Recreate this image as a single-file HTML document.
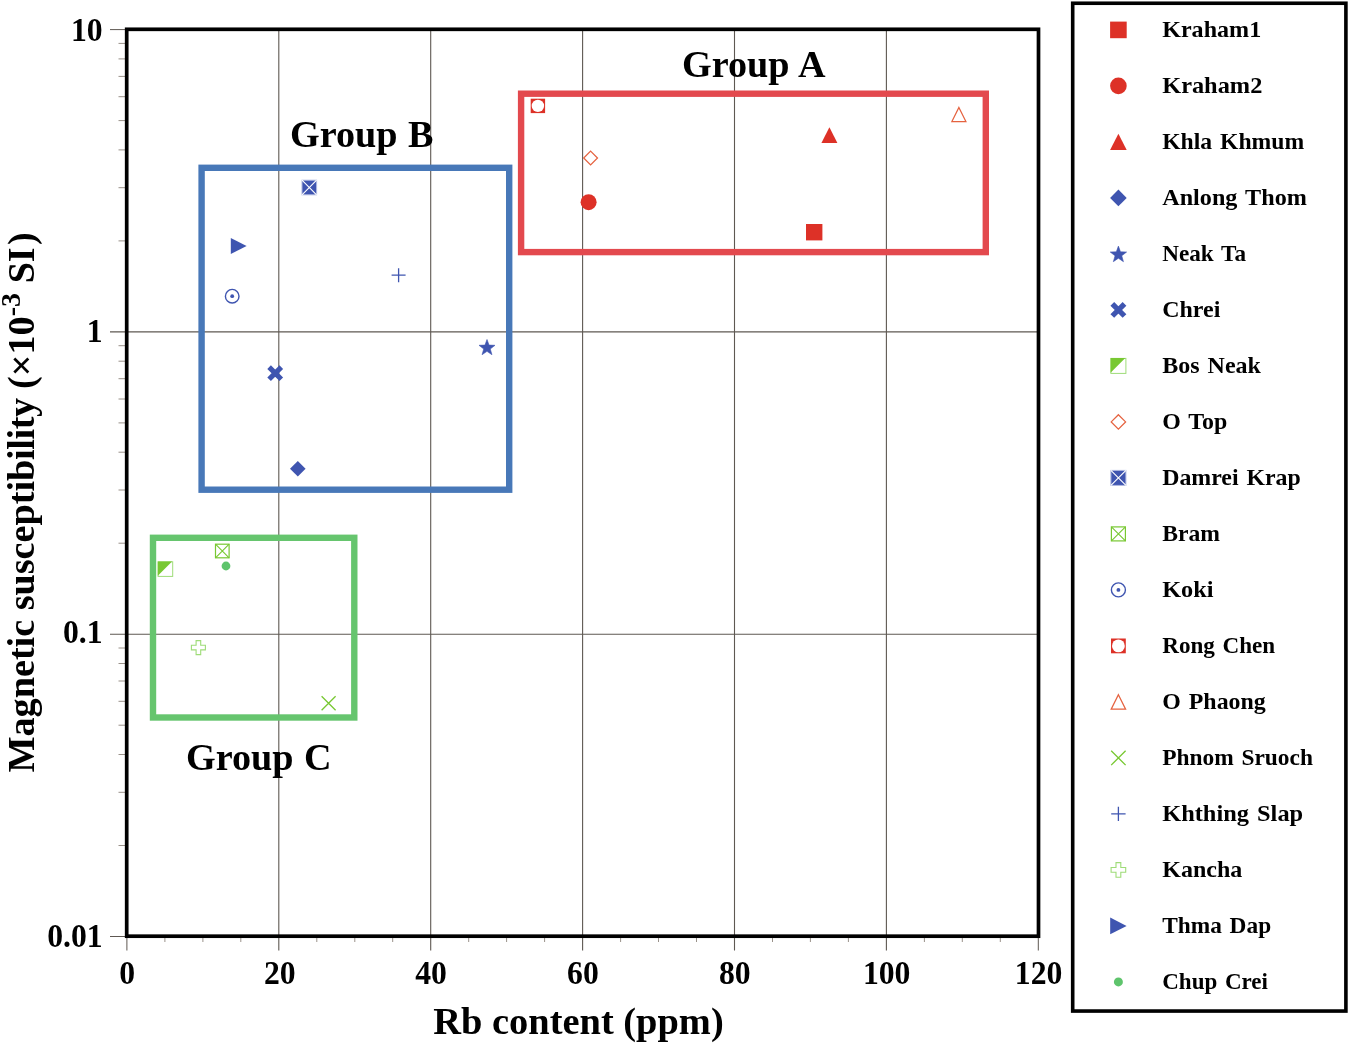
<!DOCTYPE html>
<html><head><meta charset="utf-8"><title>Chart</title>
<style>html,body{margin:0;padding:0;background:#fff;}body{width:1350px;height:1045px;overflow:hidden;}svg{display:block;will-change:transform;}text{font-family:"Liberation Serif",serif;font-weight:bold;fill:#000;}</style>
</head><body>
<svg width="1350" height="1045" viewBox="0 0 1350 1045">
<rect x="0" y="0" width="1350" height="1045" fill="#fff"/>
<g stroke="#5E5852" stroke-width="1.1" fill="none">
<line x1="278.8" y1="29.6" x2="278.8" y2="950.5"/>
<line x1="430.7" y1="29.6" x2="430.7" y2="950.5"/>
<line x1="582.6" y1="29.6" x2="582.6" y2="950.5"/>
<line x1="734.5" y1="29.6" x2="734.5" y2="950.5"/>
<line x1="886.4" y1="29.6" x2="886.4" y2="950.5"/>
<line x1="110" y1="331.9" x2="1038.3" y2="331.9"/>
<line x1="110" y1="634.2" x2="1038.3" y2="634.2"/>
</g>
<g stroke="#9A928A" stroke-width="1" fill="none">
<line x1="118.5" y1="240.9" x2="126" y2="240.9"/>
<line x1="118.5" y1="187.7" x2="126" y2="187.7"/>
<line x1="118.5" y1="149.9" x2="126" y2="149.9"/>
<line x1="118.5" y1="120.6" x2="126" y2="120.6"/>
<line x1="118.5" y1="96.7" x2="126" y2="96.7"/>
<line x1="118.5" y1="76.4" x2="126" y2="76.4"/>
<line x1="118.5" y1="58.9" x2="126" y2="58.9"/>
<line x1="118.5" y1="43.4" x2="126" y2="43.4"/>
<line x1="118.5" y1="543.2" x2="126" y2="543.2"/>
<line x1="118.5" y1="490.0" x2="126" y2="490.0"/>
<line x1="118.5" y1="452.2" x2="126" y2="452.2"/>
<line x1="118.5" y1="422.9" x2="126" y2="422.9"/>
<line x1="118.5" y1="399.0" x2="126" y2="399.0"/>
<line x1="118.5" y1="378.7" x2="126" y2="378.7"/>
<line x1="118.5" y1="361.2" x2="126" y2="361.2"/>
<line x1="118.5" y1="345.7" x2="126" y2="345.7"/>
<line x1="118.5" y1="845.5" x2="126" y2="845.5"/>
<line x1="118.5" y1="792.3" x2="126" y2="792.3"/>
<line x1="118.5" y1="754.5" x2="126" y2="754.5"/>
<line x1="118.5" y1="725.2" x2="126" y2="725.2"/>
<line x1="118.5" y1="701.3" x2="126" y2="701.3"/>
<line x1="118.5" y1="681.0" x2="126" y2="681.0"/>
<line x1="118.5" y1="663.5" x2="126" y2="663.5"/>
<line x1="118.5" y1="648.0" x2="126" y2="648.0"/>
<line x1="164.9" y1="937" x2="164.9" y2="942"/>
<line x1="202.9" y1="937" x2="202.9" y2="942"/>
<line x1="240.8" y1="937" x2="240.8" y2="942"/>
<line x1="316.8" y1="937" x2="316.8" y2="942"/>
<line x1="354.8" y1="937" x2="354.8" y2="942"/>
<line x1="392.7" y1="937" x2="392.7" y2="942"/>
<line x1="468.7" y1="937" x2="468.7" y2="942"/>
<line x1="506.6" y1="937" x2="506.6" y2="942"/>
<line x1="544.6" y1="937" x2="544.6" y2="942"/>
<line x1="620.6" y1="937" x2="620.6" y2="942"/>
<line x1="658.5" y1="937" x2="658.5" y2="942"/>
<line x1="696.5" y1="937" x2="696.5" y2="942"/>
<line x1="772.5" y1="937" x2="772.5" y2="942"/>
<line x1="810.4" y1="937" x2="810.4" y2="942"/>
<line x1="848.4" y1="937" x2="848.4" y2="942"/>
<line x1="924.4" y1="937" x2="924.4" y2="942"/>
<line x1="962.3" y1="937" x2="962.3" y2="942"/>
<line x1="1000.3" y1="937" x2="1000.3" y2="942"/>
</g>
<g stroke="#5E5852" stroke-width="1" fill="none">
<line x1="110" y1="29.6" x2="126" y2="29.6"/>
<line x1="110" y1="936.5" x2="126" y2="936.5"/>
<line x1="126.9" y1="936" x2="126.9" y2="950.5"/>
<line x1="1038.3" y1="936" x2="1038.3" y2="950.5"/>
</g>
<rect x="521.1" y="93.7" width="464.7" height="158.4" fill="none" stroke="#E3494E" stroke-width="6.4"/>
<rect x="201.6" y="167.8" width="307.6" height="321.9" fill="none" stroke="#4878B8" stroke-width="6.4"/>
<rect x="153" y="537.8" width="201.3" height="179.7" fill="none" stroke="#66C56E" stroke-width="6.4"/>
<rect x="126.7" y="29.3" width="911.8" height="906.9" fill="none" stroke="#000" stroke-width="3.7"/>
<text transform="translate(682,77.4) scale(1.005,1)" font-size="38" word-spacing="1">Group A</text>
<text transform="translate(290,146.5) scale(1.005,1)" font-size="38" word-spacing="1">Group B</text>
<text transform="translate(186,769.9) scale(1.005,1)" font-size="38" word-spacing="1">Group C</text>
<rect x="806.0" y="224.0" width="16.4" height="16.4" fill="#DD3127"/>
<circle cx="588.6" cy="202.2" r="8.0" fill="#DD3127"/>
<path d="M829.4 127.2L837.4 143.0L821.4 143.0Z" fill="#DD3127"/>
<path d="M297.8 461.0L305.6 468.8L297.8 476.6L290.0 468.8Z" fill="#3F55B0"/>
<polygon points="487.00,339.50 489.02,345.11 494.99,345.30 490.28,348.96 491.94,354.70 487.00,351.34 482.06,354.70 483.72,348.96 479.01,345.30 484.98,345.11" fill="#3F55B0" stroke="#3F55B0" stroke-width="0.6" stroke-linejoin="round"/>
<path d="M269.1 367.1L281.3 379.3M281.3 367.1L269.1 379.3" stroke="#3F55B0" stroke-width="5.1" fill="none"/>
<rect x="158.1" y="561.8" width="14.6" height="14.6" fill="#fff" stroke="#9EDC78" stroke-width="1"/><path d="M157.8 561.5L172.1 561.5L157.8 575.8Z" fill="#78C832"/>
<path d="M590.6 151.1L597.5 158.0L590.6 164.9L583.7 158.0Z" fill="#fff" stroke="#E5623F" stroke-width="1.25"/>
<rect x="302.0" y="180.2" width="14.6" height="14.6" fill="#3F55B0" stroke="#AEB8E0" stroke-width="1"/><path d="M302.0 180.2L316.6 194.8M316.6 180.2L302.0 194.8" stroke="#fff" stroke-width="1.1" fill="none"/>
<rect x="215.5" y="544.2" width="13.6" height="13.6" fill="#fff" stroke="#78C832" stroke-width="1.2"/><path d="M215.5 544.2L229.1 557.8M229.1 544.2L215.5 557.8" stroke="#78C832" stroke-width="1.1" fill="none"/>
<circle cx="232.2" cy="296.2" r="6.8" fill="#fff" stroke="#3F55B0" stroke-width="1.4"/><circle cx="232.2" cy="296.2" r="1.9" fill="#3F55B0"/>
<rect x="530.7" y="98.7" width="14.4" height="14.4" fill="#DD3127"/><circle cx="537.9" cy="105.9" r="6.2" fill="#fff"/>
<path d="M958.9 107.5L965.9 121.5L951.9 121.5Z" fill="#fff" stroke="#E5623F" stroke-width="1.25"/>
<path d="M321.6 696.2L335.6 710.2M335.6 696.2L321.6 710.2" stroke="#78C832" stroke-width="1.3" fill="none"/>
<path d="M391.6 275.2L405.6 275.2M398.6 268.2L398.6 282.2" stroke="#3F55B0" stroke-width="1.3" fill="none"/>
<path d="M196.1 640.6L200.7 640.6L200.7 645.3L205.4 645.3L205.4 649.9L200.7 649.9L200.7 654.6L196.1 654.6L196.1 649.9L191.4 649.9L191.4 645.3L196.1 645.3Z" fill="#fff" stroke="#9EDC78" stroke-width="1.1"/>
<path d="M230.8 238.0L246.6 246.0L230.8 254.0Z" fill="#3F55B0"/>
<circle cx="226" cy="566" r="4.4" fill="#5EC46C"/>
<g font-size="33" text-anchor="end">
<text transform="translate(102.6,40.5) scale(0.96,1)">10</text>
<text transform="translate(102.6,341.8) scale(0.96,1)">1</text>
<text transform="translate(102.6,643.0) scale(0.96,1)">0.1</text>
<text transform="translate(102.6,946.8) scale(0.96,1)">0.01</text>
</g>
<g font-size="33" text-anchor="middle">
<text transform="translate(127.2,984) scale(0.96,1)">0</text>
<text transform="translate(279.7,984) scale(0.96,1)">20</text>
<text transform="translate(431.0,984) scale(0.96,1)">40</text>
<text transform="translate(582.9,984) scale(0.96,1)">60</text>
<text transform="translate(734.8,984) scale(0.96,1)">80</text>
<text transform="translate(886.7,984) scale(0.96,1)">100</text>
<text transform="translate(1038.6,984) scale(0.96,1)">120</text>
</g>
<text transform="translate(433.2,1034.3) scale(1.012,1)" font-size="38">Rb content (ppm)</text>
<text transform="translate(33.6,772.5) rotate(-90) scale(1.005,1)" font-size="38">Magnetic suscepti<tspan letter-spacing="-0.35">bility </tspan>(×10<tspan font-size="28" dy="-13.4">-3</tspan><tspan dy="13.4"> SI</tspan><tspan dx="2.4">)</tspan></text>
<rect x="1072.7" y="3.25" width="273.2" height="1007.8" fill="#fff" stroke="#000" stroke-width="3.6"/>
<g font-size="24" word-spacing="2">
<rect x="1110.1" y="21.6" width="16.6" height="16.6" fill="#DD3127"/>
<text transform="translate(1162.2,37.3) scale(1.004,1)">Kraham1</text>
<circle cx="1118.4" cy="85.9" r="8.3" fill="#DD3127"/>
<text transform="translate(1162.2,93.3) scale(1.015,1)">Kraham2</text>
<path d="M1118.4 133.7L1126.7 150.1L1110.1 150.1Z" fill="#DD3127"/>
<text transform="translate(1162.2,149.3) scale(0.986,1)">Khla Khmum</text>
<path d="M1118.4 189.6L1126.7 197.9L1118.4 206.2L1110.1 197.9Z" fill="#3F55B0"/>
<text transform="translate(1162.2,205.3) scale(1.008,1)">Anlong Thom</text>
<polygon points="1118.40,246.10 1120.47,251.85 1126.58,252.04 1121.75,255.79 1123.45,261.66 1118.40,258.23 1113.35,261.66 1115.05,255.79 1110.22,252.04 1116.33,251.85" fill="#3F55B0" stroke="#3F55B0" stroke-width="0.6" stroke-linejoin="round"/>
<text transform="translate(1162.2,261.3) scale(0.967,1)">Neak Ta</text>
<path d="M1112.3 303.8L1124.5 316.0M1124.5 303.8L1112.3 316.0" stroke="#3F55B0" stroke-width="5.3" fill="none"/>
<text transform="translate(1162.2,317.3) scale(0.998,1)">Chrei</text>
<rect x="1110.9" y="358.4" width="15" height="15" fill="#fff" stroke="#9EDC78" stroke-width="1"/><path d="M1110.6 358.1L1125.3 358.1L1110.6 372.8Z" fill="#78C832"/>
<text transform="translate(1162.2,373.3) scale(1.0,1)">Bos Neak</text>
<path d="M1118.4 414.7L1125.6 421.9L1118.4 429.1L1111.2 421.9Z" fill="#fff" stroke="#E5623F" stroke-width="1.25"/>
<text transform="translate(1162.2,429.3) scale(0.997,1)">O Top</text>
<rect x="1110.9" y="470.4" width="15" height="15" fill="#3F55B0" stroke="#AEB8E0" stroke-width="1"/><path d="M1110.9 470.4L1125.9 485.4M1125.9 470.4L1110.9 485.4" stroke="#fff" stroke-width="1.1" fill="none"/>
<text transform="translate(1162.2,485.3) scale(0.994,1)">Damrei Krap</text>
<rect x="1111.4" y="526.9" width="14" height="14" fill="#fff" stroke="#78C832" stroke-width="1.2"/><path d="M1111.4 526.9L1125.4 540.9M1125.4 526.9L1111.4 540.9" stroke="#78C832" stroke-width="1.1" fill="none"/>
<text transform="translate(1162.2,541.3) scale(0.985,1)">Bram</text>
<circle cx="1118.4" cy="589.9" r="7" fill="#fff" stroke="#3F55B0" stroke-width="1.4"/><circle cx="1118.4" cy="589.9" r="1.9" fill="#3F55B0"/>
<text transform="translate(1162.2,597.3) scale(1.014,1)">Koki</text>
<rect x="1111.0" y="638.5" width="14.8" height="14.8" fill="#DD3127"/><circle cx="1118.4" cy="645.9" r="6.4" fill="#fff"/>
<text transform="translate(1162.2,653.3) scale(0.963,1)">Rong Chen</text>
<path d="M1118.4 694.7L1125.6 709.1L1111.2 709.1Z" fill="#fff" stroke="#E5623F" stroke-width="1.25"/>
<text transform="translate(1162.2,709.3) scale(0.996,1)">O Phaong</text>
<path d="M1111.2 750.7L1125.6 765.1M1125.6 750.7L1111.2 765.1" stroke="#78C832" stroke-width="1.3" fill="none"/>
<text transform="translate(1162.2,765.3) scale(0.975,1)">Phnom Sruoch</text>
<path d="M1111.2 813.9L1125.6 813.9M1118.4 806.7L1118.4 821.1" stroke="#3F55B0" stroke-width="1.3" fill="none"/>
<text transform="translate(1162.2,821.3) scale(1.016,1)">Khthing Slap</text>
<path d="M1116.0 862.6L1120.8 862.6L1120.8 867.5L1125.7 867.5L1125.7 872.3L1120.8 872.3L1120.8 877.2L1116.0 877.2L1116.0 872.3L1111.1 872.3L1111.1 867.5L1116.0 867.5Z" fill="#fff" stroke="#9EDC78" stroke-width="1.1"/>
<text transform="translate(1162.2,877.3) scale(1.001,1)">Kancha</text>
<path d="M1110.2 917.6L1126.6 925.9L1110.2 934.2Z" fill="#3F55B0"/>
<text transform="translate(1162.2,933.3) scale(0.973,1)">Thma Dap</text>
<circle cx="1118.4" cy="981.9" r="4.5" fill="#5EC46C"/>
<text transform="translate(1162.2,989.3) scale(0.96,1)">Chup Crei</text>
</g>
</svg></body></html>
